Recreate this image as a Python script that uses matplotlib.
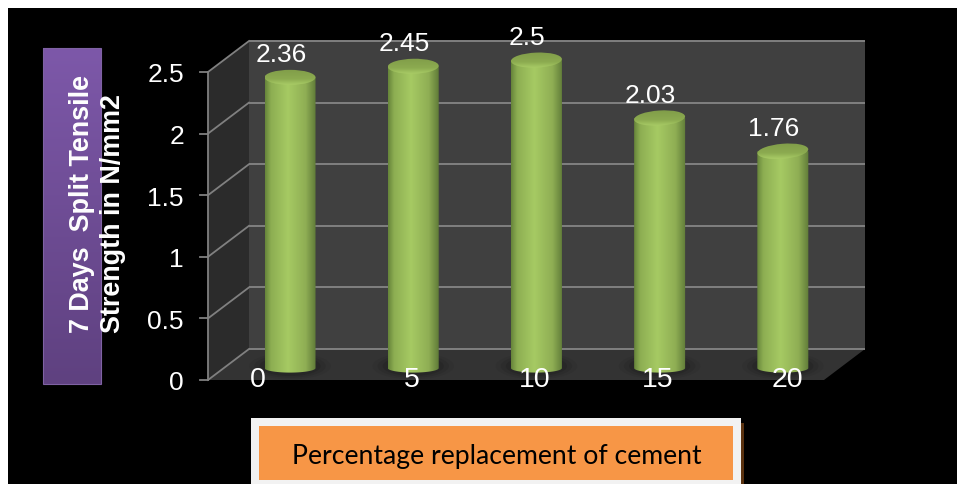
import numpy as np
import matplotlib
matplotlib.use('Agg')
import matplotlib.pyplot as plt
from matplotlib.colors import LinearSegmentedColormap
from matplotlib.patches import Ellipse, PathPatch, Polygon, Rectangle
from matplotlib.path import Path

# valores del ensayo
reemplazo = ['0', '5', '10', '15', '20']
resistencia = [2.36, 2.45, 2.5, 2.03, 1.76]
ticks_y = [0, 0.5, 1, 1.5, 2, 2.5]
etiquetas_y = ['0', '0.5', '1', '1.5', '2', '2.5']

# ajuste a mano de las etiquetas del eje x, en pixeles
ajuste_x = [-12, 19, 19, 18, 25]

W, H = 957, 484
ESCALA = 123.2  # pixeles por unidad, igual en los dos ejes
PARED_X, PARED_Y = 249, 349  # esquina inferior izquierda de la pared del fondo
FONDO_X, FONDO_Y = 41 / ESCALA, 31 / ESCALA  # profundidad de la caja 3D
BASE_X, BASE_Y = 0.167, 0.155  # plano donde estan los cilindros
RX, RY = 25.5 / ESCALA, 7.5 / ESCALA
RY_BASE = 4.5 / ESCALA

fuente = 'Liberation Sans'

fig = plt.figure(figsize=(W / 100, H / 100), dpi=100, facecolor='white')
fig.patches.append(Rectangle((8 / W, 0), 1 - 8 / W, 1 - 8 / H, transform=fig.transFigure,
                             facecolor='black', edgecolor='none', figure=fig, zorder=-1))

ax = fig.add_axes([0, 0, 1, 1])
ax.patch.set_visible(False)
ax.axis('off')
xlim = (-0.5 - PARED_X / ESCALA, -0.5 + (W - PARED_X) / ESCALA)
ylim = (-(H - PARED_Y) / ESCALA, PARED_Y / ESCALA)

x_min, x_max = -0.5, len(reemplazo) - 0.5
y_max = ticks_y[-1]

# paredes y piso
ax.add_patch(Rectangle((x_min, 0), x_max - x_min, y_max, facecolor='#404040', edgecolor='none', zorder=1))
ax.add_patch(Polygon([(x_min, 0), (x_min, y_max), (x_min - FONDO_X, y_max - FONDO_Y), (x_min - FONDO_X, -FONDO_Y)],
                     facecolor='#2b2b2b', edgecolor='none', zorder=1))
ax.add_patch(Polygon([(x_min, 0), (x_max, 0), (x_max - FONDO_X, -FONDO_Y), (x_min - FONDO_X, -FONDO_Y)],
                     facecolor='#333333', edgecolor='none', zorder=1))

# rejilla, eje y marcas
gris = '#808080'
for t, txt in zip(ticks_y, etiquetas_y):
    ax.plot([x_min, x_max], [t, t], color=gris, lw=1.4, zorder=2, solid_capstyle='butt')
    ax.plot([x_min, x_min - FONDO_X], [t, t - FONDO_Y], color=gris, lw=1.3, zorder=2)
    ax.plot([x_min - FONDO_X, x_min - FONDO_X - 8 / ESCALA], [t - FONDO_Y, t - FONDO_Y], color=gris, lw=1.3, zorder=2)
    ax.text(x_min - FONDO_X - 24 / ESCALA, t - FONDO_Y - 3.5 / ESCALA, txt, color='white', fontsize=19, family=fuente,
            ha='right', va='center', zorder=6)
ax.plot([x_min - FONDO_X, x_min - FONDO_X], [-FONDO_Y, y_max - FONDO_Y], color=gris, lw=1.3, zorder=2)

cmap_lado = LinearSegmentedColormap.from_list('lado', [(0, '#66843a'), (0.12, '#8dae52'), (0.45, '#a6ca63'),
                                                       (0.8, '#8fae54'), (1, '#5f7a38')])
cmap_tapa = LinearSegmentedColormap.from_list('tapa', [(0, '#7e9a48'), (0.6, '#8cab50'), (0.9, '#a9cc66'), (1, '#a9cc66')])

# cilindros
for i, (nombre, v) in enumerate(zip(reemplazo, resistencia)):
    cx = i - BASE_X
    abajo = -BASE_Y
    arriba = abajo + v

    # sombra sobre el piso
    for esc, alfa in zip([1.6, 1.4, 1.2], [0.12, 0.2, 0.3]):
        ax.add_patch(Ellipse((cx, abajo + 2 / ESCALA), 2 * RX * esc, 2 * RY * esc * 1.1,
                             facecolor='#1c1c1c', alpha=alfa, edgecolor='none', zorder=3))

    ang = np.linspace(0, -np.pi, 40)
    contorno = [(cx - RX, arriba), (cx + RX, arriba)]
    contorno += [(cx + RX * np.cos(a), abajo + RY_BASE * np.sin(a)) for a in ang]
    contorno.append((cx - RX, arriba))
    lado = PathPatch(Path(contorno), facecolor='none', edgecolor='none', zorder=4)
    ax.add_patch(lado)
    im = ax.imshow(np.linspace(0, 1, 256).reshape(1, -1), cmap=cmap_lado, aspect='auto', zorder=4,
                   extent=(cx - RX, cx + RX, abajo - RY, arriba), interpolation='bilinear')
    im.set_clip_path(lado)

    tapa = Ellipse((cx, arriba), 2 * RX, 2 * RY, angle=i * 1.2, facecolor='none', edgecolor='none', zorder=5)
    ax.add_patch(tapa)
    im2 = ax.imshow(np.linspace(0, 1, 64).reshape(-1, 1), cmap=cmap_tapa, aspect='auto', zorder=5,
                    extent=(cx - RX, cx + RX, arriba - RY * 1.3, arriba + RY * 1.3), interpolation='bilinear')
    im2.set_clip_path(tapa)

    ax.annotate(str(v), (cx, arriba), xytext=(-9, 22), textcoords='offset pixels', color='white', fontsize=19,
                family=fuente, ha='center', va='center', zorder=6)
    ax.annotate(nombre, (i - FONDO_X, -FONDO_Y), xytext=(ajuste_x[i], 0), textcoords='offset pixels',
                color='white', fontsize=20.5, family=fuente, ha='center', va='center', zorder=6)

ax.set_xlim(xlim)
ax.set_ylim(ylim)

# cajas de titulos, en pixeles
deco = fig.add_axes([0, 0, 1, 1])
deco.patch.set_visible(False)
deco.axis('off')

cmap_morado = LinearSegmentedColormap.from_list('morado', ['#7d58a9', '#5f4180'])
deco.imshow(np.linspace(0, 1, 128).reshape(-1, 1), cmap=cmap_morado, aspect='auto', extent=(43, 101, 384, 48), origin='upper', zorder=1)
deco.add_patch(Rectangle((43, 48), 58, 336, facecolor='none', edgecolor='#7f62a3', lw=0.8, zorder=2))
deco.text(97.5, 333, '7 Days  Split Tensile\nStrength in N/mm2', color='white', fontsize=19.4, fontweight='bold', family=fuente,
          rotation=90, rotation_mode='anchor', ha='left', va='center', multialignment='left', linespacing=1.28, zorder=3)

deco.add_patch(Rectangle((741, 423), 3, 61, facecolor='#5a3210', edgecolor='none', zorder=1))
deco.add_patch(Rectangle((251, 417.5), 490, 70, facecolor='#f2f2f2', edgecolor='none', zorder=2))
deco.add_patch(Rectangle((259, 425.5), 474, 54, facecolor='#f79646', edgecolor='none', zorder=3))
deco.text(496.5, 456.5, 'Percentage replacement of cement', color='black', fontsize=19.2, family='Lato',
          ha='center', va='center', zorder=4)

deco.set_xlim(0, W)
deco.set_ylim(H, 0)

fig.savefig('out.png', dpi=100, facecolor=fig.get_facecolor())
